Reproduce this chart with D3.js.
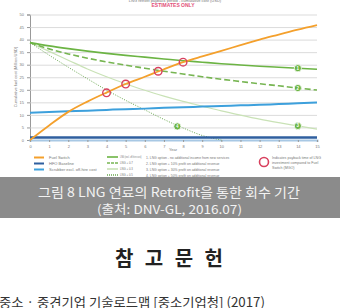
<!DOCTYPE html>
<html>
<head>
<meta charset="utf-8">
<style>
body { margin:0; padding:0; background:#ffffff; overflow:hidden; }
svg { display:block; }
.tiny { font-family:"Liberation Sans", Arial, sans-serif; font-size:4px; fill:#777777; }
.kr { font-family:"Noto Sans CJK KR", sans-serif; }
</style>
<script src="https://cdn.jsdelivr.net/npm/d3@7/dist/d3.min.js"></script>
</head>
<body>
<svg id="chart" width="340" height="308"></svg>
<script>

// data (cumulative cost, million USD)
var years = [0,1,2,3,4,5,6,7,8,9,10,11,12,13,14,15];
var fuelSwitch = [0,5.8,11.2,15.3,18.9,22.3,25.2,28.2,31,33.3,35.5,37.8,40,42,44,45.8];
var hfoBaseline = [1,1,1,1,1,1,1,1,1,1,1,1,1,1,1,1];
var scrubber = [10.9,11.2,11.5,11.7,12.0,12.3,12.5,12.8,13.0,13.3,13.5,13.8,14.0,14.3,14.6,14.9];
var lng1 = [38.8,37.5,36.4,35.4,34.5,33.7,33.0,32.3,31.6,31.0,30.4,29.9,29.4,29.0,28.6,28.2];
var lng2 = [38.8,36.3,34.3,32.6,31.1,29.8,28.6,27.4,26.3,25.2,24.2,23.3,22.4,21.6,20.7,19.9];
var lng3 = [38.8,35.3,31.8,28.3,25.2,22.4,19.8,17.5,15.4,13.5,11.6,9.9,8.3,6.9,5.6,4.3];
var lng4 = [38.8,33.8,29.0,24.4,19.9,15.8,12.0,8.2,4.8,1.8,0];
var paybackYears = [4.0,5.0,6.7,8.0];
var paybackValues = [18.8,22.3,27.4,31.0];
var labelNames = ["1","2","3","4"];
var labelYears = [14,14,14,7.7];
var labelValues = [28.6,20.7,5.6,5.4];
var yTicks = [0,5,10,15,20,25,30,35,40,45,50];
var xTicks = [0,1,2,3,4,5,6,7,8,9,10,11,12,13,14,15];
var legendLeft = ["Fuel Switch","HFO Baseline","Scrubber excl. off-hire cost"];
var legendMid = ["LNG (excl. off-hire cost)","LNG + 0.7","LNG + 0.3","LNG + 0.5"];
var legendNotes = ["1. LNG option - no additional income from new services","2. LNG option + 10% profit on additional revenue","3. LNG option + 30% profit on additional revenue","4. LNG option + 50% profit on additional revenue"];
var legendCircle = ["Indicates payback time of LNG","investment compared to Fuel","Switch (MGO)"];

var svg = d3.select("#chart");
var xScale = d3.scaleLinear().domain([0,15]).range([30,317]);
var yScale = d3.scaleLinear().domain([0,50]).range([140,14.5]);

//titles
svg.append("text").attr("x",175).attr("y",1.5).attr("text-anchor","middle").attr("class","tiny").text("LNG retrofit payback period - cumulative cost (USD)");
svg.append("text").attr("x",173).attr("y",7).attr("text-anchor","middle").style("font-family","Liberation Sans, sans-serif").style("font-size","5px").style("font-weight","bold").attr("fill","#e2507a").text("ESTIMATES ONLY");

//grid + axes
var yAxis = d3.axisLeft(yScale).tickValues(yTicks).tickSize(3).tickPadding(3);
var gy = svg.append("g").attr("transform","translate(30,0)").call(yAxis);
gy.select(".domain").attr("stroke","#999999");
gy.selectAll(".tick line").attr("stroke","#999999");
gy.selectAll("text").attr("class","tiny");
var grid = d3.axisLeft(yScale).tickValues(yTicks.slice(1)).tickSize(-287).tickFormat("");
var gg = svg.append("g").attr("transform","translate(30,0)").call(grid);
gg.select(".domain").remove();
gg.selectAll(".tick line").attr("stroke","#d2d2d2").attr("stroke-width",0.8);

var xAxis = d3.axisBottom(xScale).tickValues(xTicks).tickSize(2).tickPadding(3);
var gx = svg.append("g").attr("transform","translate(0,140)").call(xAxis);
gx.select(".domain").attr("stroke","#a8c8e4").attr("stroke-width",2);
gx.selectAll(".tick line").attr("stroke","#999999");
gx.selectAll("text").attr("class","tiny");
svg.append("text").attr("x",173).attr("y",151).attr("text-anchor","middle").attr("class","tiny").text("Year");
svg.append("text").attr("transform","translate(17,77)rotate(-90)").attr("text-anchor","middle").attr("class","tiny").text("Cumulative fuel cost (Million USD)");

//lines
var line = d3.line().x(function(d){return xScale(d[0]);}).y(function(d){return yScale(d[1]);}).curve(d3.curveMonotoneX);
function pairs(vals){ return vals.map(function(v,i){ return [years[i],v]; }); }
var series = [
	{v:lng3, c:"#c9e2b6", w:1.2, dash:null},
	{v:lng4, c:"#6aa84f", w:1, dash:"1,1.5"},
	{v:lng2, c:"#77b552", w:1.6, dash:"6,3"},
	{v:lng1, c:"#6cb444", w:1.6, dash:null},
	{v:scrubber, c:"#3da0dc", w:2, dash:null},
	{v:hfoBaseline, c:"#2f5f9f", w:2.6, dash:null},
	{v:fuelSwitch, c:"#f4a02c", w:1.8, dash:null}
];
series.forEach(function(s){
	svg.append("path").attr("d",line(pairs(s.v))).attr("fill","none").attr("stroke",s.c)
		.attr("stroke-width",s.w).attr("stroke-dasharray",s.dash);
});

//payback circles
svg.selectAll("circle.pay").data(paybackYears).enter().append("circle").attr("class","pay")
	.attr("cx",function(d){return xScale(d);}).attr("cy",function(d,i){return yScale(paybackValues[i]);})
	.attr("r",3.8).attr("fill","none").attr("stroke","#d8405e").attr("stroke-width",1.4);

//number labels
var lab = svg.selectAll("g.lab").data(labelNames).enter().append("g").attr("class","lab")
	.attr("transform",function(d,i){return "translate("+xScale(labelYears[i])+","+yScale(labelValues[i])+")";});
lab.append("circle").attr("r",3.6).attr("fill","#6cb444").attr("stroke","#ffffff").attr("stroke-width",0.8);
lab.append("text").attr("y",1.5).attr("text-anchor","middle").style("font-family","Liberation Sans, sans-serif").style("font-size","4.5px").style("font-weight","bold").attr("fill","#ffffff").text(function(d){return d;});

//legend
var leftCols = ["#f4a02c","#2f5f9f","#3da0dc"];
legendLeft.forEach(function(t,i){
	svg.append("line").attr("x1",34).attr("x2",44).attr("y1",157.5+i*6).attr("y2",157.5+i*6).attr("stroke",leftCols[i]).attr("stroke-width",2);
	svg.append("text").attr("x",49).attr("y",159+i*6).attr("class","tiny").text(t);
});
var midStyles = [{c:"#6cb444",d:null},{c:"#77b552",d:"3,1"},{c:"#c9e2b6",d:null},{c:"#6aa84f",d:"1,1"}];
legendMid.forEach(function(t,i){
	svg.append("line").attr("x1",107).attr("x2",118).attr("y1",157+i*6).attr("y2",157+i*6).attr("stroke",midStyles[i].c).attr("stroke-width",1.6).attr("stroke-dasharray",midStyles[i].d);
	var tx = svg.append("text").attr("x",120).attr("y",158.2+i*6).attr("class","tiny").style("font-size","2.8px").text(t);
	if (i === 0) tx.attr("textLength",21.5).attr("lengthAdjust","spacingAndGlyphs");
});
legendNotes.forEach(function(t,i){
	svg.append("text").attr("x",146).attr("y",158.5+i*6).attr("class","tiny").style("font-size","3.4px").attr("fill","#555555").text(t);
});
svg.append("circle").attr("cx",264).attr("cy",162).attr("r",4.5).attr("fill","none").attr("stroke","#d8405e").attr("stroke-width",1.6);
legendCircle.forEach(function(t,i){
	svg.append("text").attr("x",272).attr("y",158.5+i*5).attr("class","tiny").style("font-size","3.6px").text(t);
});

//caption band
svg.append("rect").attr("x",0).attr("y",177).attr("width",340).attr("height",41).attr("fill","#8b8b8b");
svg.append("text").attr("x",169).attr("y",197).attr("text-anchor","middle").attr("class","kr").style("font-size","13px")
	.attr("textLength",262).attr("lengthAdjust","spacingAndGlyphs").attr("fill","#f2f2f2").text("그림 8 LNG 연료의 Retrofit을 통한 회수 기간");
svg.append("text").attr("x",169.5).attr("y",214).attr("text-anchor","middle").attr("class","kr").style("font-size","12px")
	.attr("textLength",145).attr("lengthAdjust","spacingAndGlyphs").attr("fill","#f2f2f2").text("(출처: DNV-GL, 2016.07)");

//references
svg.append("text").attr("x",169).attr("y",266).attr("text-anchor","middle").attr("class","kr").style("font-size","20px").style("font-weight","bold")
	.attr("textLength",108).attr("lengthAdjust","spacing").attr("fill","#222222").text("참고문헌");
svg.append("text").attr("x",-1).attr("y",307).attr("class","kr").style("font-size","13px")
	.attr("textLength",266).attr("lengthAdjust","spacingAndGlyphs").attr("fill","#333333").text("중소 · 중견기업 기술로드맵 [중소기업청] (2017)");
</script>
</body>
</html>
